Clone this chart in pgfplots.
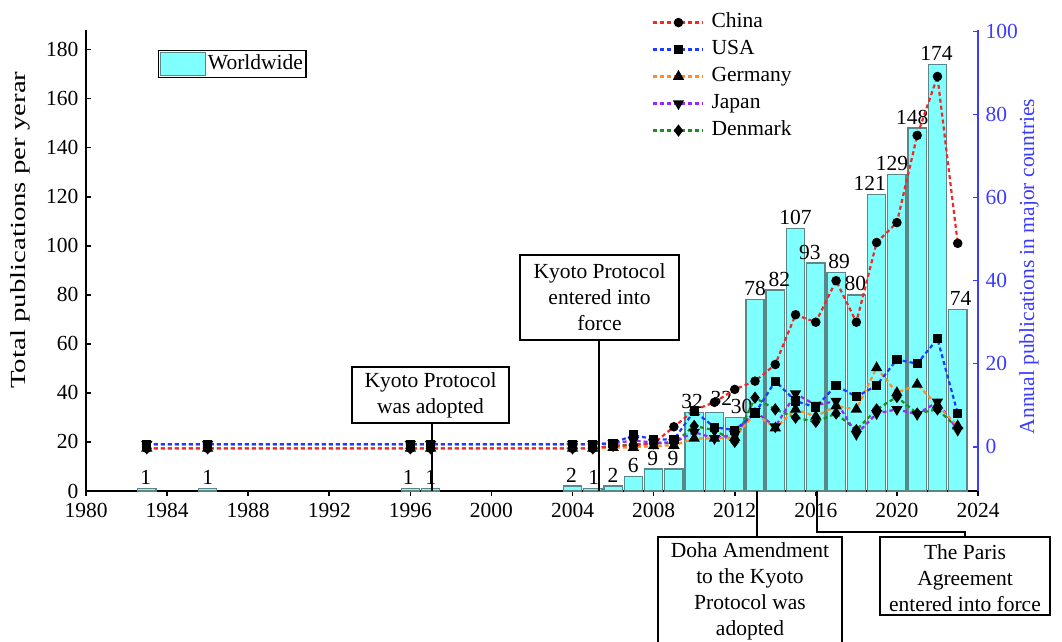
\documentclass[border=0pt]{standalone}
\usepackage{pgfplots}
\pgfplotsset{compat=1.18}
\usepackage{fontspec}
\setmainfont{Liberation Serif}
\usepackage{graphicx}

\definecolor{barfill}{RGB}{128,255,255}
\definecolor{baredge}{RGB}{90,135,135}
\definecolor{cchina}{RGB}{240,40,40}
\definecolor{cusa}{RGB}{30,60,255}
\definecolor{cger}{RGB}{255,140,40}
\definecolor{cjap}{RGB}{150,40,255}
\definecolor{cden}{RGB}{30,140,30}
\definecolor{raxis}{RGB}{60,60,255}

\pgfplotstableread{
year total dx dy
1983 1 -0.5 0
1986 1 0 0
1996 1 -1 0
1997 1 0 0
2004 2 -0.5 0
2005 1 0.5 0
2006 2 0 0
2007 6 0 0
2008 9 -0.5 0
2009 9 -0.5 0
2010 32 -1 0
2011 32 3.5 1.5
2012 30 3.5 0
2013 78 0 0
2014 82 2 0
2015 107 0 0
2016 93 -3 0
2017 89 1.5 0
2018 80 -0.5 0
2019 121 -3.5 0
2020 129 -2.5 0
2021 148 -2.5 0
2022 174 -0.5 0
2023 74 1.5 0
}\worldtable

\pgfplotstableread{
year china usa germany japan denmark
1983 -0.4 0.6 -0.4 0.6 -0.4
1986 -0.4 0.6 -0.4 0.6 -0.4
1996 -0.4 0.6 -0.4 0.6 -0.4
1997 -0.4 0.6 -0.4 0.6 -0.4
2004 -0.4 0.6 -0.4 0.6 -0.4
2005 -0.4 0.6 -0.4 0.6 -0.4
2006 0.2 0.8 -0.2 0.8 0.2
2007 0.3 2.8 -0.2 1.5 0.5
2008 0.8 1.8 0.2 1.0 0.8
2009 4.8 1.7 0.3 1.0 0.8
2010 8.8 8.6 2.0 3.5 5.0
2011 10.7 4.7 2.0 2.0 4.0
2012 13.8 4.0 2.2 3.0 1.2
2013 15.8 8.0 8.0 8.5 11.8
2014 19.8 15.8 4.5 4.8 9.0
2015 31.8 11.0 9.0 12.8 7.0
2016 30.0 9.5 7.3 10.0 6.0
2017 40.0 14.8 9.8 11.0 8.0
2018 30.0 12.0 9.0 3.0 4.0
2019 49.2 14.8 19.0 8.0 9.0
2020 54.0 21.0 13.0 9.0 12.0
2021 75.0 20.0 15.0 7.8 8.0
2022 89.2 26.0 10.0 10.8 9.0
2023 49.0 8.0 5.0 4.0 4.5
}\countrytable

\begin{document}
\fontsize{10.75}{13}\selectfont
\begin{tikzpicture}[font=\fontsize{10.75}{13}\selectfont]
\useasboundingbox (0,0) rectangle (531pt,321pt);
\begin{axis}[
  at={(43pt,75.5pt)}, anchor=south west,
  scale only axis, width=446pt, height=230.5pt,
  xmin=1980, xmax=2024, ymin=0, ymax=188,
  axis x line*=bottom, axis y line*=left,
  axis line style={line width=1pt, black},
  xtick={1980,1984,...,2024}, ytick={0,20,...,180},
  tick align=inside, major tick length=2.5pt,
  tick style={black, line width=0.8pt},
  /pgf/number format/assume math mode=true,
  /pgf/number format/set thousands separator={},
  ticklabel style={font=\fontsize{10.75}{13}\selectfont},
  ylabel={\scalebox{1.34}[1]{Total publications per yerar}},
  every axis y label/.style={at={(axis description cs:-0.074,0.566)}, rotate=90, anchor=center},
  ybar, bar width=0.9, bar shift=0pt,
  nodes near coords,
  visualization depends on={\thisrow{dx} \as \labdx},
  visualization depends on={\thisrow{dy} \as \labdy},
  every node near coord/.append style={inner sep=1.5pt, font=\fontsize{10.75}{13}\selectfont, black,
     xshift=\labdx pt, yshift=\labdy pt},
  clip=false,
  legend style={at={(0.0807,0.9566)}, anchor=north west, draw=black, line width=0.6pt, inner sep=0.5pt,
    nodes={inner sep=1pt, text height=8pt, text depth=2pt}},
  legend image code/.code={\draw[#1] (0pt,-5.8pt) rectangle (22.5pt,5.8pt);},
]
\addplot[fill=barfill, draw=baredge, line width=0.7pt] table[x=year, y=total] {\worldtable};
\legend{Worldwide}
\end{axis}

\begin{axis}[
  at={(43pt,75.5pt)}, anchor=south west,
  scale only axis, width=446pt, height=230.5pt,
  xmin=1980, xmax=2024, ymin=-10.67, ymax=100.4,
  axis x line=none, axis y line*=right,
  y axis line style={line width=1pt, raxis},
  ytick={0,20,...,100},
  tick align=inside, major tick length=2.5pt,
  ytick style={raxis, line width=0.8pt},
  /pgf/number format/assume math mode=true,
  yticklabel style={font=\fontsize{10.75}{13}\selectfont, raxis},
  ylabel={Annual publications in major countries},
  every axis y label/.style={at={(axis description cs:1.057,0.487)}, rotate=90, anchor=center, raxis},
  clip=false,
  every axis plot/.append style={line width=1.1pt, dash pattern=on 2pt off 1.5pt},
  reverse legend,
  legend style={at={(0.6345,1.043)}, anchor=north west, draw=none, fill=none, inner sep=0pt,
    row sep=1.5pt, nodes={inner sep=1pt, text height=7.5pt, text depth=2.5pt, black},
    /tikz/every odd column/.append style={column sep=2.5pt}},
  legend cell align=left,
  legend image code/.code={\draw[mark repeat=2,mark phase=2] plot coordinates {(0pt,0pt) (12.5pt,0pt) (25pt,0pt)};},
]
\addplot[cden, mark=diamond*, mark size=2.2pt, mark options={solid, fill=black, draw=black}] table[x=year, y=denmark] {\countrytable};
\addplot[cjap, mark=triangle*, mark size=2.2pt, mark options={solid, fill=black, draw=black, rotate=180}] table[x=year, y=japan] {\countrytable};
\addplot[cger, mark=triangle*, mark size=2.2pt, mark options={solid, fill=black, draw=black}] table[x=year, y=germany] {\countrytable};
\addplot[cusa, mark=square*, mark size=1.75pt, mark options={solid, fill=black, draw=black}] table[x=year, y=usa] {\countrytable};
\addplot[cchina, mark=*, mark size=1.8pt, mark options={solid, fill=black, draw=black}] table[x=year, y=china] {\countrytable};
\legend{Denmark,Japan,Germany,USA,China}
\end{axis}

% annotations
\begin{scope}[line width=0.8pt]
\draw[fill=white] (176pt,109.5pt) rectangle (254.5pt,137.5pt);
\node[align=center, inner sep=0pt] at (215.25pt,123.5pt) {Kyoto Protocol\\was adopted};
\draw[line width=1pt] (216pt,109.5pt) -- (216pt,75.5pt);

\draw[fill=white] (260pt,151pt) rectangle (339.5pt,193.5pt);
\node[align=center, inner sep=0pt] at (299.75pt,172.25pt) {Kyoto Protocol\\entered into\\force};
\draw[line width=1pt] (299.5pt,151pt) -- (299.5pt,75.5pt);

\draw[fill=white] (329pt,-5pt) rectangle (421pt,52.5pt);
\node[align=center, inner sep=0pt] at (375pt,25.5pt) {Doha Amendment\\to the Kyoto\\Protocol was\\adopted};
\draw[line width=1pt] (378.5pt,75.5pt) -- (378.5pt,52.5pt);

\draw[fill=white] (440pt,13.5pt) rectangle (525pt,52.5pt);
\node[align=center, inner sep=0pt] at (482.5pt,32pt) {The Paris\\Agreement\\entered into force};
\draw[line width=1pt] (408.5pt,75.5pt) -- (408.5pt,55pt) -- (482.5pt,55pt) -- (482.5pt,52.5pt);
\end{scope}
\end{tikzpicture}
\end{document}
